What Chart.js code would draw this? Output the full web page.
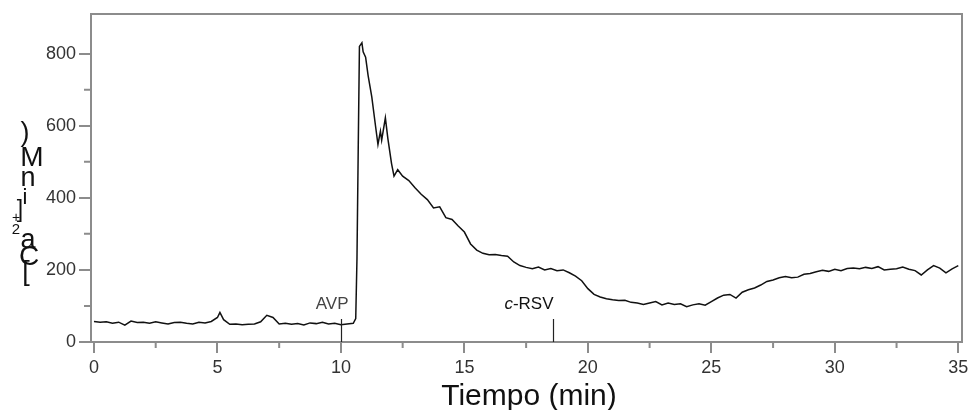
<!DOCTYPE html>
<html>
<head>
<meta charset="utf-8">
<script src="https://cdn.jsdelivr.net/npm/chart.js@4"></script>
<style>
  html, body { margin: 0; padding: 0; background: #fff; }
  #wrap { width: 973px; height: 410px; }
</style>
</head>
<body>
<div id="wrap"><canvas id="calcium"></canvas></div>
<script>
// Time (min) and [Ca2+]i (nM)
const times = [
  0, 0.25, 0.5, 0.75, 1, 1.25, 1.5, 1.75, 2, 2.25,
  2.5, 2.75, 3, 3.25, 3.5, 3.75, 4, 4.25, 4.5, 4.75,
  5, 5.1, 5.25, 5.5, 5.75, 6, 6.25, 6.5, 6.75, 7,
  7.25, 7.5, 7.75, 8, 8.25, 8.5, 8.75, 9, 9.25, 9.5,
  9.75, 10, 10.25, 10.5, 10.6, 10.65, 10.7, 10.75, 10.85, 10.9,
  11, 11.1, 11.25, 11.4, 11.5, 11.6, 11.65, 11.8, 11.9, 12.05,
  12.15, 12.3, 12.5, 12.75, 13, 13.25, 13.5, 13.75, 14, 14.25,
  14.5, 14.75, 15, 15.25, 15.5, 15.75, 16, 16.25, 16.5, 16.75,
  17, 17.25, 17.5, 17.75, 18, 18.25, 18.5, 18.75, 19, 19.25,
  19.5, 19.75, 20, 20.25, 20.5, 20.75, 21, 21.25, 21.5, 21.75,
  22, 22.25, 22.5, 22.75, 23, 23.25, 23.5, 23.75, 24, 24.25,
  24.5, 24.75, 25, 25.25, 25.5, 25.75, 26, 26.25, 26.5, 26.75,
  27, 27.25, 27.5, 27.75, 28, 28.25, 28.5, 28.75, 29, 29.25,
  29.5, 29.75, 30, 30.25, 30.5, 30.75, 31, 31.25, 31.5, 31.75,
  32, 32.25, 32.5, 32.75, 33, 33.25, 33.5, 33.75, 34, 34.25,
  34.5, 34.75, 35
];
const calcium = [
  57, 55, 56, 52, 55, 47, 58, 54, 55, 52,
  56, 53, 50, 54, 55, 52, 50, 55, 53, 57,
  68, 82, 62, 49, 50, 48, 49, 50, 56, 74,
  68, 50, 52, 49, 51, 47, 53, 51, 55, 50,
  52, 48, 50, 52, 65, 230, 530, 820, 830, 805,
  790, 740, 680, 600, 548, 585, 560, 622, 565, 495,
  460, 478, 460, 448, 428, 410, 395, 372, 375, 345,
  340, 322, 305, 272, 255, 246, 242, 243, 240, 238,
  222, 212, 207, 203, 208, 200, 204, 198, 200, 192,
  183, 170, 148, 132, 125, 120, 117, 115, 116, 110,
  108, 104, 108, 112, 103, 108, 104, 106, 98, 103,
  106, 102, 112, 122, 130, 132, 122, 138, 145, 150,
  158, 168, 172, 178, 182, 178, 180, 188, 190, 195,
  199, 196, 202, 198, 204, 205, 203, 207, 204, 209,
  200, 202, 203, 208, 202, 198, 186, 200, 212, 205,
  192, 203, 212
];

const xMajor = [0, 5, 10, 15, 20, 25, 30, 35];
const xMinor = [2.5, 7.5, 12.5, 17.5, 22.5, 27.5, 32.5];
const yMajor = [0, 200, 400, 600, 800];
const yMinor = [100, 300, 500, 700];

// stimulus markers
const markerTimes = [10, 18.6];
const markerLabels = ['AVP', 'c-RSV'];

const axisGray = '#8c8c8c';
const fontFam = '"Liberation Sans", Arial, sans-serif';

// y title glyphs as they sit in the original (char, x, y, size)
const yTitleGlyphs = [
  [')', 25, 134, 27], ['M', 32, 158, 28], ['n', 28, 179, 27], ['i', 25, 198, 22],
  [']', 20, 211, 23], ['+', 16, 218, 14], ['2', 16, 230, 15], ['a', 28, 241, 27],
  ['C', 29, 257, 28], ['[', 26, 273, 27]
];

const decorPlugin = {
  id: 'decor',
  afterDraw(chart) {
    const ctx = chart.ctx;
    const a = chart.chartArea;
    const xs = chart.scales.x, ys = chart.scales.y;
    ctx.save();
    // frame on top and right
    ctx.strokeStyle = axisGray;
    ctx.lineWidth = 2;
    ctx.beginPath();
    ctx.moveTo(a.left, a.top);
    ctx.lineTo(a.right, a.top);
    ctx.lineTo(a.right, a.bottom);
    ctx.stroke();
    // minor ticks
    ctx.beginPath();
    xMinor.forEach(v => {
      const px = xs.getPixelForValue(v);
      ctx.moveTo(px, a.bottom);
      ctx.lineTo(px, a.bottom + 6);
    });
    yMinor.forEach(v => {
      const py = ys.getPixelForValue(v);
      ctx.moveTo(a.left, py);
      ctx.lineTo(a.left - 7, py);
    });
    ctx.stroke();

    // markers
    ctx.strokeStyle = '#222';
    ctx.lineWidth = 1.2;
    ctx.textBaseline = 'middle';
    markerTimes.forEach((t, i) => {
      const px = Math.round(xs.getPixelForValue(t)) + 0.5;
      ctx.beginPath();
      ctx.moveTo(px, a.bottom);
      ctx.lineTo(px, a.bottom - 23);
      ctx.stroke();
      const label = markerLabels[i];
      const ty = a.bottom - 38;
      if (label.startsWith('c-')) {
        ctx.fillStyle = '#111';
        ctx.font = 'italic 17px ' + fontFam;
        const wC = ctx.measureText('c').width;
        ctx.font = '17px ' + fontFam;
        const wR = ctx.measureText(label.slice(1)).width;
        const start = px - wC - wR;
        ctx.textAlign = 'left';
        ctx.font = 'italic 17px ' + fontFam;
        ctx.fillText('c', start, ty);
        ctx.font = '17px ' + fontFam;
        ctx.fillText(label.slice(1), start + wC, ty);
      } else {
        ctx.fillStyle = '#444';
        ctx.font = '17px ' + fontFam;
        ctx.textAlign = 'right';
        ctx.fillText(label, px + 7, ty);
      }
    });

    // x title
    ctx.fillStyle = '#111';
    ctx.font = '30px ' + fontFam;
    ctx.textAlign = 'center';
    ctx.textBaseline = 'alphabetic';
    ctx.fillText('Tiempo (min)', 529, 405);

    // y title glyphs
    ctx.textBaseline = 'middle';
    yTitleGlyphs.forEach(([ch, gx, gy, size]) => {
      ctx.font = size + 'px ' + fontFam;
      ctx.fillText(ch, gx, gy);
    });
    ctx.restore();
  }
};

const points = times.map((t, i) => ({ x: t, y: calcium[i] }));

new Chart(document.getElementById('calcium'), {
  type: 'line',
  data: {
    datasets: [{
      data: points,
      borderColor: '#111',
      borderWidth: 1.5,
      pointRadius: 0,
      tension: 0,
      fill: false
    }]
  },
  options: {
    responsive: true,
    maintainAspectRatio: false,
    animation: false,
    layout: { padding: { top: 14, right: 11, left: 0, bottom: 0 } },
    plugins: { legend: { display: false }, tooltip: { enabled: false } },
    scales: {
      x: {
        type: 'linear',
        min: -0.12,
        max: 35.15,
        afterBuildTicks(scale) { scale.ticks = xMajor.map(v => ({ value: v })); },
        afterFit(scale) { scale.height = 68; },
        border: { display: true, color: axisGray, width: 2 },
        grid: { drawOnChartArea: false, drawTicks: true, tickLength: 11, color: axisGray, lineWidth: 2 },
        ticks: { color: '#333', font: { family: fontFam, size: 18 }, padding: 4, maxRotation: 0 }
      },
      y: {
        min: 0,
        max: 910,
        afterBuildTicks(scale) { scale.ticks = yMajor.map(v => ({ value: v })); },
        afterFit(scale) { scale.width = 91; },
        border: { display: true, color: axisGray, width: 2 },
        grid: { drawOnChartArea: false, drawTicks: true, tickLength: 12, color: axisGray, lineWidth: 2 },
        ticks: { color: '#333', font: { family: fontFam, size: 18 }, padding: 3 }
      }
    }
  },
  plugins: [decorPlugin]
});
</script>
</body>
</html>
